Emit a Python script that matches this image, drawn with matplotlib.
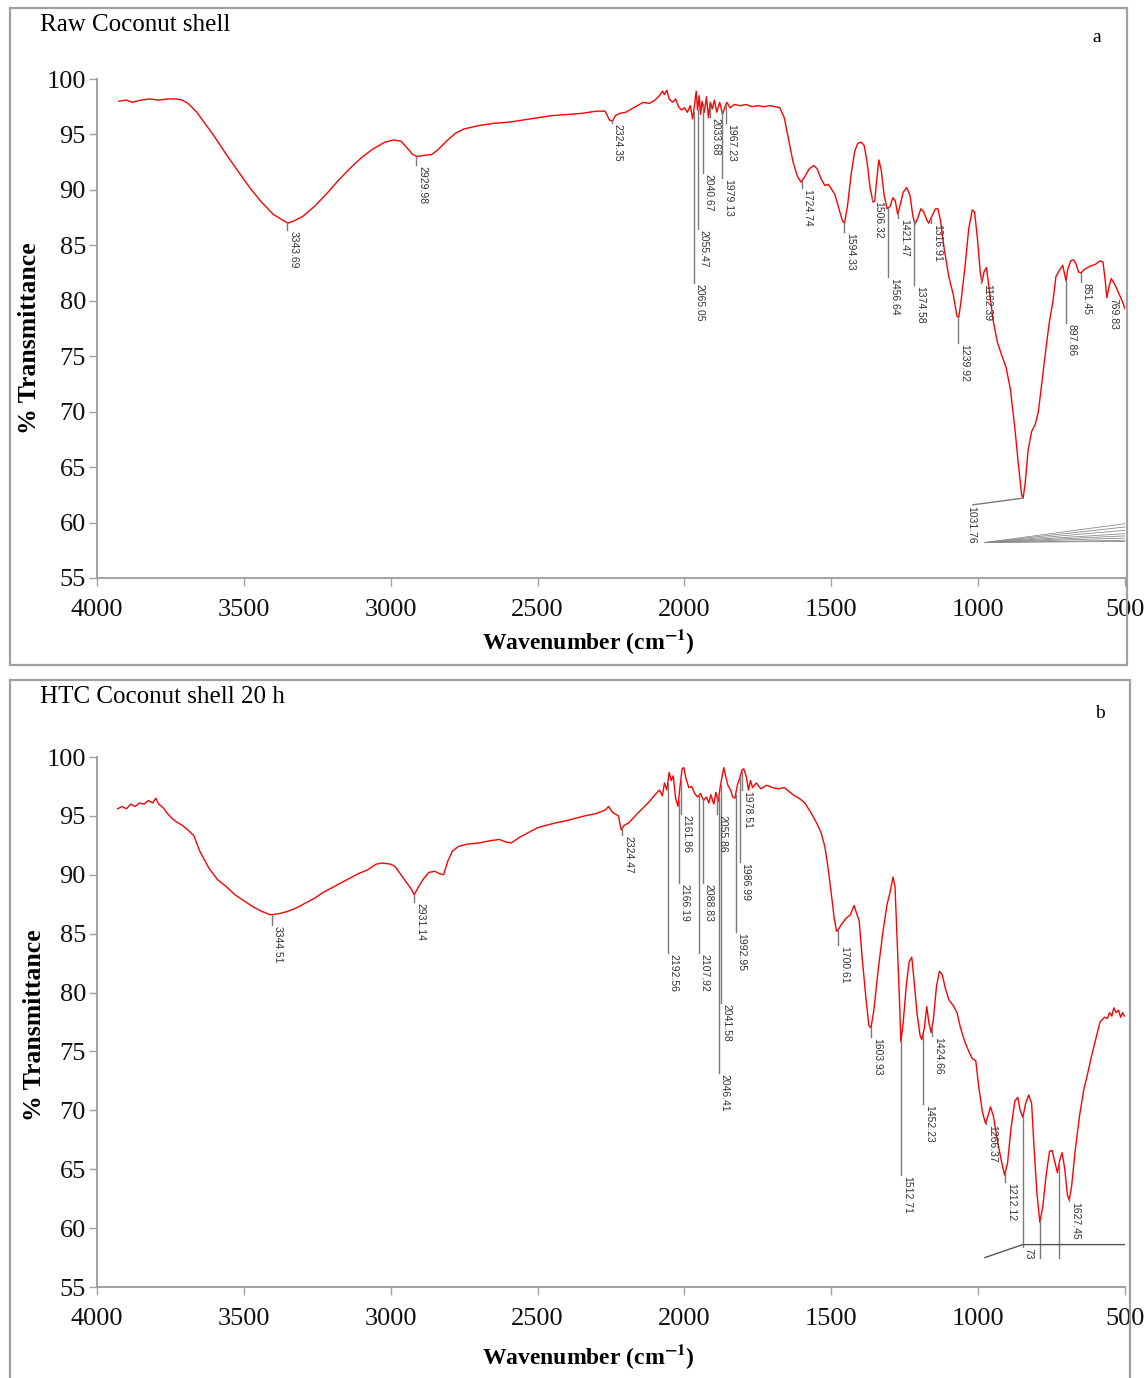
import numpy as np
import matplotlib
matplotlib.use("Agg")
import matplotlib.pyplot as plt
from matplotlib.patches import Rectangle
from matplotlib.transforms import offset_copy

plt.rcParams['font.family'] = 'Liberation Serif'
plt.rcParams['mathtext.fontset'] = 'stix'

# ---- panel a: raw coconut shell (wavenumber, %T) ----
wn_raw = [3925, 3900, 3880, 3850, 3820, 3790, 3760, 3730, 3710, 3690, 3660, 3630, 3600, 3560,
          3520, 3480, 3440, 3400, 3370, 3350, 3330, 3300, 3260, 3220, 3180, 3140, 3100, 3060,
          3020, 2990, 2965, 2945, 2925, 2910, 2890, 2860, 2840, 2810, 2780, 2750, 2700, 2650,
          2600, 2550, 2500, 2450, 2400, 2350, 2300, 2270, 2255, 2245, 2235, 2220, 2200, 2180,
          2160, 2140, 2120, 2100, 2085, 2075, 2068, 2060, 2052, 2040, 2030, 2020, 2010, 2000,
          1990, 1980, 1972, 1965, 1960, 1955, 1950, 1945, 1940, 1932, 1925, 1918, 1912, 1905,
          1898, 1890, 1880, 1870, 1862, 1855, 1845, 1830, 1810, 1790, 1770, 1750, 1730, 1710,
          1690, 1675, 1660, 1645, 1630, 1615, 1603, 1590, 1575, 1560, 1548, 1535, 1522, 1510,
          1500, 1488, 1475, 1462, 1455, 1445, 1432, 1420, 1410, 1398, 1388, 1378, 1368, 1358,
          1352, 1345, 1338, 1330, 1320, 1310, 1300, 1290, 1282, 1274, 1266, 1255, 1243, 1232,
          1222, 1215, 1205, 1195, 1185, 1175, 1168, 1158, 1145, 1137, 1128, 1115, 1100, 1085,
          1072, 1066, 1058, 1045, 1032, 1020, 1012, 1002, 993, 987, 980, 972, 962, 950, 935,
          920, 905, 890, 875, 862, 852, 847, 840, 830, 818, 805, 795, 785, 770, 758, 745, 735,
          722, 712, 705, 701, 695, 685, 676, 668, 658, 650, 640, 620, 600, 585, 575, 568, 562,
          555, 547, 535, 520, 510, 500]
t_raw = [98.0, 98.1, 97.9, 98.1, 98.2, 98.1, 98.2, 98.2, 98.1, 97.8, 97.0, 95.9, 94.8, 93.2,
         91.7, 90.2, 88.9, 87.8, 87.3, 87.0, 87.2, 87.6, 88.5, 89.6, 90.8, 91.9, 92.9, 93.7,
         94.3, 94.5, 94.4, 93.8, 93.2, 93.0, 93.1, 93.2, 93.6, 94.4, 95.1, 95.5, 95.8, 96.0,
         96.1, 96.3, 96.5, 96.7, 96.8, 96.9, 97.1, 97.1, 96.3, 96.2, 96.7, 96.9, 97.0, 97.3,
         97.6, 97.9, 97.8, 98.1, 98.5, 98.9, 98.6, 99.0, 98.2, 97.9, 98.2, 97.5, 97.2, 97.4,
         97.0, 97.6, 96.4, 97.8, 98.9, 97.2, 98.5, 96.8, 98.0, 97.0, 98.4, 96.5, 97.9, 97.3,
         98.1, 97.0, 97.9, 96.8, 97.5, 97.9, 97.4, 97.7, 97.6, 97.7, 97.5, 97.6, 97.5, 97.6,
         97.5, 97.4, 96.5, 94.5, 92.5, 91.2, 90.7, 91.2, 91.9, 92.2, 91.9, 91.0, 90.4, 90.5,
         90.1, 89.6, 88.4, 87.2, 87.0, 88.5, 91.5, 93.5, 94.2, 94.3, 94.0, 92.5, 90.2, 88.9,
         89.0, 91.0, 92.7, 91.8, 89.5, 88.3, 88.5, 89.3, 89.0, 87.8, 88.6, 89.8, 90.2, 89.5,
         87.6, 86.9, 87.5, 88.3, 88.0, 87.3, 87.0, 87.6, 88.3, 88.3, 87.2, 84.6, 82.2, 80.6,
         78.6, 78.5, 80.0, 83.0, 86.5, 88.2, 88.0, 85.5, 82.6, 81.7, 82.6, 83.0, 81.0, 78.4, 76.3,
         75.1, 74.0, 72.0, 68.5, 65.0, 62.5, 62.2, 63.5, 66.5, 68.2, 68.9, 70.0, 72.2, 75.5, 78.0, 80.0, 82.2,
         82.8, 83.2, 82.3, 81.8, 82.8, 83.6, 83.7, 83.4, 82.6, 82.5, 82.8, 83.1, 83.3, 83.6, 83.5, 82.0, 80.3,
         81.2, 82.0, 81.5, 80.6, 80.0, 79.3]

# peak markers: position on axis, %T where the leader line stops, label
raw_peak_at = [3352, 2913, 2248, 1969, 1955, 1938, 1914, 1873, 1860, 1601, 1457, 1362, 1307,
               1273, 1219, 1161, 1069, 990, 701, 650, 561]
raw_peak_end = [86.4, 92.2, 96.0, 81.6, 86.5, 91.5, 96.6, 91.1, 96.0, 90.2, 86.2, 89.1, 82.1,
                87.5, 81.4, 87.0, 76.2, 81.6, 78.0, 81.7, 80.3]
raw_peak_text = ["3343.69", "2929.98", "2324.35", "2065.05", "2055.47", "2040.67", "2033.68",
                 "1979.13", "1967.23", "1724.74", "1594.33", "1506.32", "1456.64", "1421.47",
                 "1374.58", "1316.91", "1239.92", "1162.39", "897.86", "851.45", "769.83"]
# bent leader for the strongest band
raw_leader = (847, 1018, 61.6, "1031.76")
# bundle of label lines drawn from one point to the right edge
raw_fan_start = (977, 58.2)
raw_fan_ends = [59.9, 59.6, 59.3, 59.0, 58.8, 58.6, 58.4, 58.3]

# ---- panel b: HTC coconut shell 20 h ----
wn_htc = [3930, 3915, 3900, 3885, 3870, 3855, 3840, 3825, 3810, 3800, 3790, 3775, 3760, 3745,
          3730, 3710, 3690, 3670, 3650, 3620, 3590, 3560, 3530, 3500, 3470, 3440, 3410, 3380,
          3350, 3320, 3290, 3260, 3230, 3200, 3170, 3140, 3110, 3080, 3050, 3030, 3000, 2985,
          2965, 2945, 2930, 2920, 2905, 2890, 2870, 2850, 2835, 2820, 2805, 2790, 2770, 2740,
          2700, 2660, 2630, 2610, 2590, 2560, 2530, 2500, 2470, 2440, 2400, 2370, 2340, 2300,
          2270, 2258, 2245, 2225, 2215, 2205, 2190, 2175, 2160, 2140, 2120, 2100, 2085, 2075,
          2068, 2060, 2052, 2045, 2038, 2030, 2022, 2015, 2008, 2002, 1995, 1985, 1975, 1965,
          1955, 1945, 1935, 1925, 1917, 1910, 1900, 1893, 1885, 1878, 1870, 1866, 1860, 1852,
          1843, 1835, 1828, 1820, 1812, 1804, 1798, 1790, 1782, 1775, 1768, 1755, 1740, 1720,
          1700, 1680, 1660, 1645, 1630, 1610, 1590, 1570, 1550, 1535, 1522, 1512, 1500, 1490,
          1482, 1475, 1465, 1450, 1435, 1422, 1415, 1405, 1395, 1382, 1372, 1365, 1355, 1340,
          1325, 1310, 1300, 1290, 1283, 1275, 1268, 1263, 1255, 1245, 1235, 1226, 1218, 1208,
          1198, 1192, 1183, 1175, 1168, 1160, 1152, 1142, 1132, 1122, 1112, 1100, 1085, 1072,
          1060, 1045, 1030, 1020, 1008, 998, 985, 975, 968, 958, 948, 935, 920, 910, 900, 888,
          875, 865, 857, 848, 838, 828, 818, 810, 800, 790, 780, 768, 757, 748, 738, 730, 722,
          714, 705, 696, 690, 682, 670, 655, 640, 630, 615, 600, 585, 570, 560, 552, 545, 538,
          530, 522, 515, 508, 502]
t_htc = [95.6, 95.8, 95.6, 96.0, 95.8, 96.1, 96.0, 96.3, 96.1, 96.5, 96.0, 95.7, 95.2, 94.8,
         94.5, 94.2, 93.8, 93.3, 92.0, 90.6, 89.6, 89.0, 88.3, 87.8, 87.3, 86.9, 86.6, 86.7,
         86.9, 87.2, 87.6, 88.0, 88.5, 88.9, 89.3, 89.7, 90.1, 90.4, 90.9, 91.0, 90.9, 90.7,
         90.0, 89.3, 88.8, 88.3, 89.0, 89.6, 90.2, 90.3, 90.1, 90.0, 91.2, 92.0, 92.4, 92.6,
         92.7, 92.9, 93.0, 92.8, 92.7, 93.2, 93.6, 94.0, 94.2, 94.4, 94.6, 94.8, 95.0, 95.2,
         95.5, 95.8, 95.3, 95.0, 93.8, 94.2, 94.4, 94.8, 95.2, 95.7, 96.2, 96.8, 97.2, 96.7,
         97.8, 97.2, 98.7, 98.0, 98.4, 96.5, 95.8, 97.5, 99.0, 99.1, 98.2, 97.4, 97.5, 96.9,
         96.6, 96.9, 96.3, 96.6, 96.1, 96.8, 96.0, 97.0, 96.2, 97.5, 98.6, 99.1, 98.4, 97.6,
         97.2, 96.6, 96.5, 97.6, 98.2, 98.9, 99.0, 98.4, 97.2, 98.0, 97.4, 97.8, 97.3, 97.6,
         97.4, 97.3, 97.4, 97.1, 96.8, 96.5, 96.1, 95.3, 94.4, 93.6, 92.4, 90.8, 88.4, 86.3,
         85.2, 85.4, 85.8, 86.3, 86.6, 87.4, 86.8, 86.1, 83.0, 79.5, 77.2, 77.0, 78.5, 82.0,
         85.0, 87.5, 88.5, 89.8, 89.0, 84.0, 79.5, 75.8, 77.5, 80.5, 82.6, 83.0, 81.0, 78.2,
         76.4, 76.0, 77.0, 78.8, 77.5, 76.6, 77.8, 80.5, 81.8, 81.5, 80.4, 79.4, 78.9, 78.3,
         77.0, 75.8, 74.9, 74.4, 74.2, 72.0, 69.8, 68.9, 69.4, 70.3, 69.5, 67.5, 65.6, 64.5, 65.5, 68.5,
         70.8, 71.1, 70.0, 69.4, 70.6, 71.3, 70.6, 67.0, 63.0, 60.5, 61.8, 64.6, 66.5, 66.6, 65.5, 64.7, 65.8,
         66.4, 65.0, 62.8, 62.4, 63.5, 66.5, 69.5, 71.8, 72.8, 74.5, 76.0, 77.5, 77.9, 77.8, 78.3, 78.0, 78.7,
         78.3, 78.5, 77.9, 78.3, 78.0]

htc_peak_at = [3404, 2920, 2211, 2057, 2020, 2013, 1952, 1938, 1890, 1883, 1877, 1826, 1812,
               1805, 1478, 1365, 1263, 1188, 1157, 973, 909, 848, 789, 725, 691]
htc_peak_end = [85.7, 87.7, 93.4, 83.4, 89.3, 95.2, 83.4, 89.3, 95.2, 73.2, 79.1, 85.1, 91.1,
                97.2, 84.0, 76.2, 64.5, 70.5, 76.3, 68.8, 63.9, 58.4, 57.5, 57.5, 62.3]
htc_peak_text = ["3344.51", "2931.14", "2324.47", "2192.56", "2166.19", "2161.86", "2107.92",
                 "2088.83", "2055.86", "2046.41", "2041.58", "1992.95", "1986.99", "1978.51",
                 "1700.61", "1603.93", "1512.71", "1452.23", "1424.66", "1266.37", "1212.12",
                 "73", "", "", "1627.45"]
htc_base_x = [977, 848, 500]
htc_base_y = [57.5, 58.6, 58.6]

W, H = 1145, 1378
fig = plt.figure(figsize=(W / 100, H / 100), dpi=100)


def px(x, y):
    return x / W, 1 - y / H


def panel(box, ax_rect, title, tag, tag_xy, wn, t, pk_at, pk_end, pk_text, xlab_y, ylab_xy):
    x0, y0, x1, y1 = box
    fig.add_artist(Rectangle(px(x0, y1), (x1 - x0) / W, (y1 - y0) / H, transform=fig.transFigure,
                             fill=False, ec='#a0a0a0', lw=1.6))
    fig.text(*px(40, box[1] + 17), title, fontsize=18, va='center')
    fig.text(*px(*tag_xy), tag, fontsize=14, va='center', ha='center')

    left, top, right, bottom = ax_rect
    l, b = px(left, bottom)
    ax = fig.add_axes([l, b, (right - left) / W, (bottom - top) / H])
    ax.plot(wn, t, color='red', lw=1)

    wn_a = np.asarray(wn)[::-1]
    t_a = np.asarray(t)[::-1]
    lab = offset_copy(ax.transData, fig=fig, x=6, y=-1, units='dots')
    for x, ye, s in zip(pk_at, pk_end, pk_text):
        yc = np.interp(x, wn_a, t_a)
        ax.plot([x, x], [yc, ye], color='#7a7a7a', lw=1)
        if s:
            ax.text(x, ye, s, transform=lab, rotation=270, ha='center', va='top',
                    fontsize=7.5, family='Liberation Sans', color='#333333')

    ax.set_xlim(4000, 500)
    ax.set_ylim(55, 100)
    ax.set_xticks(range(4000, 499, -500))
    ax.set_yticks(range(55, 101, 5))
    for s in ['top', 'right']:
        ax.spines[s].set_visible(False)
    for s in ['left', 'bottom']:
        ax.spines[s].set_color('#a0a0a0')
        ax.spines[s].set_linewidth(1.4)
    ax.tick_params(colors='#a0a0a0', labelcolor='#111111', labelsize=19, length=6, width=1)
    ax.tick_params(axis='x', pad=9)
    ax.tick_params(axis='y', pad=2)

    fig.text(*px(588, xlab_y), r'Wavenumber (cm$^{\mathbf{-1}}$)', fontsize=17,
             fontweight='bold', ha='center', va='center')
    fig.text(*px(*ylab_xy), '% Transmittance', fontsize=18.5, fontweight='bold',
             rotation=90, ha='center', va='center')
    return ax


ax_a = panel((10, 8, 1127, 665), (97, 79, 1125, 578), 'Raw Coconut shell', 'a', (1097, 37),
             wn_raw, t_raw, raw_peak_at, raw_peak_end, raw_peak_text, 642, (30, 338))

# leader of the 1031.76 band and the bundle of lines beside it
pk, xe, ye, s = raw_leader
yc = np.interp(pk, np.asarray(wn_raw)[::-1], np.asarray(t_raw)[::-1])
ax_a.plot([pk, xe], [yc, ye], color='#7a7a7a', lw=1)
ax_a.text(xe, ye, s, transform=offset_copy(ax_a.transData, fig=fig, x=-2, y=-1, units='dots'),
          rotation=270, ha='center', va='top', fontsize=7.5, family='Liberation Sans', color='#333333')
for ye in raw_fan_ends:
    ax_a.plot([raw_fan_start[0], 500], [raw_fan_start[1], ye], color='#8a8a8a', lw=0.6)

ax_b = panel((10, 680, 1130, 1390), (97, 757, 1125, 1287), 'HTC Coconut shell 20 h', 'b',
             (1100, 713), wn_htc, t_htc, htc_peak_at, htc_peak_end, htc_peak_text, 1357, (35, 1025))
ax_b.plot(htc_base_x, htc_base_y, color='#555555', lw=1)

fig.savefig('out.png', dpi=100)
